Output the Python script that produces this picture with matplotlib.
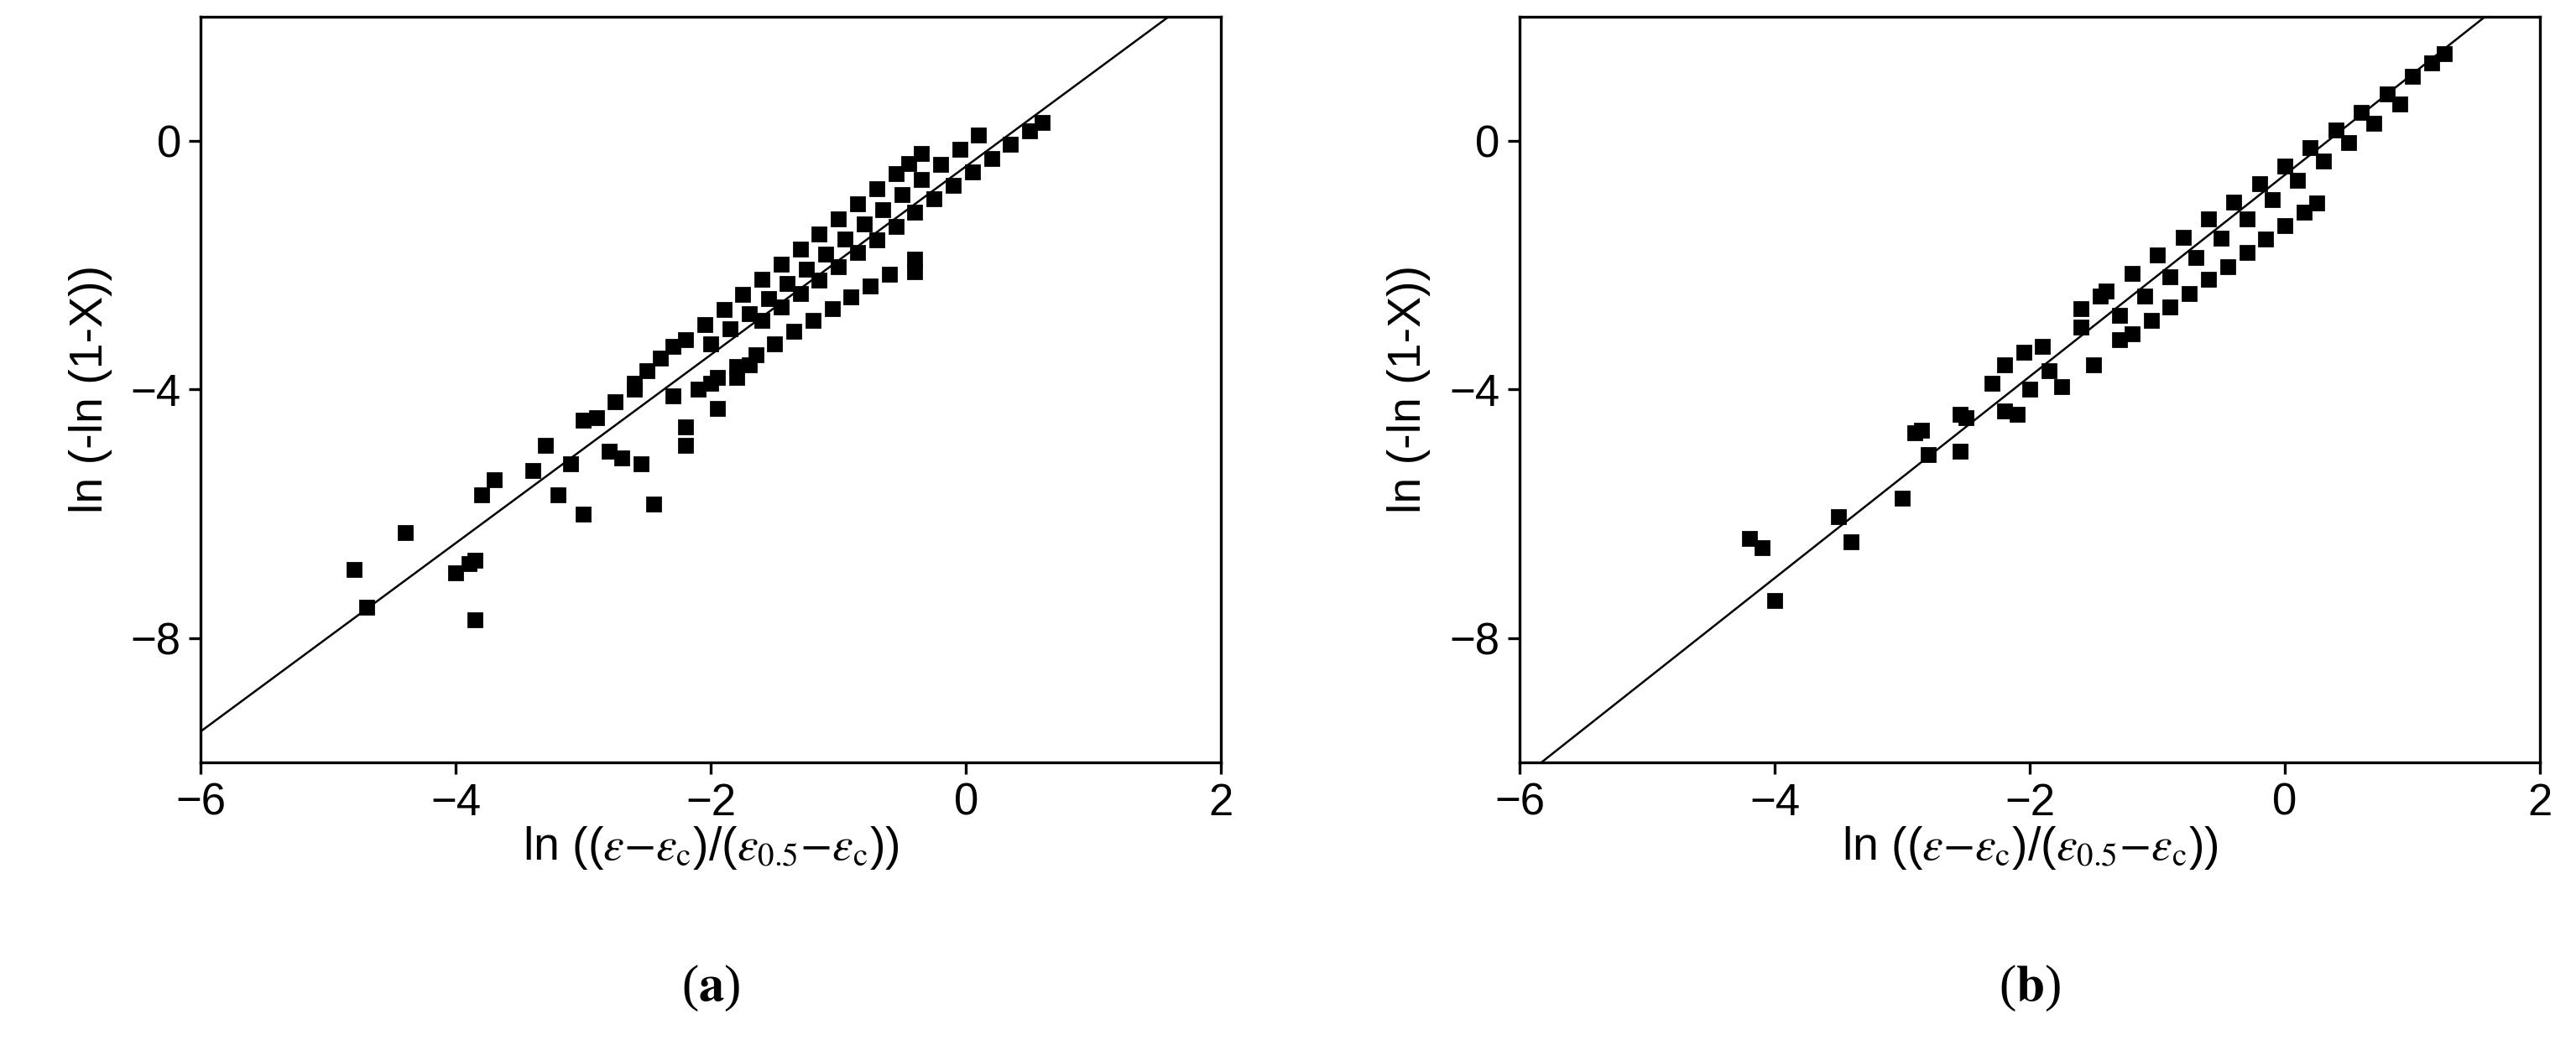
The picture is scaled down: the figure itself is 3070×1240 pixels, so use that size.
import matplotlib.pyplot as plt

# panel (a) data
a_band1_x = [-2.2, -2.05, -1.9, -1.75, -1.6, -1.45, -1.3, -1.15, -1.0, -0.85, -0.7, -0.55, -0.45, -0.35]
a_band1_y = [-3.20, -2.95, -2.71, -2.47, -2.23, -1.98, -1.74, -1.50, -1.25, -1.01, -0.77, -0.52, -0.36, -0.2]
a_band2_x = [-2.0, -1.85, -1.7, -1.55, -1.4, -1.25, -1.1, -0.95, -0.8, -0.65, -0.5, -0.35, -0.2, -0.05, 0.1]
a_band2_y = [-3.26, -3.02, -2.78, -2.54, -2.30, -2.06, -1.82, -1.58, -1.34, -1.10, -0.86, -0.62, -0.38, -0.14, 0.1]
a_band3_x = [-1.6, -1.45, -1.3, -1.15, -1.0, -0.85, -0.7, -0.55, -0.4, -0.25, -0.1, 0.05, 0.2, 0.35, 0.5, 0.6]
a_band3_y = [-2.89, -2.67, -2.46, -2.24, -2.02, -1.80, -1.59, -1.37, -1.15, -0.93, -0.72, -0.50, -0.28, -0.06, 0.16, 0.3]
a_band4_x = [-2.1, -1.95, -1.8, -1.65, -1.5, -1.35, -1.2, -1.05, -0.9, -0.75, -0.6, -0.4, -0.4]
a_band4_y = [-4.0, -3.81, -3.63, -3.44, -3.26, -3.07, -2.89, -2.70, -2.51, -2.33, -2.14, -1.9, -2.1]
a_scatter_x = [-4.8, -4.7, -4.4, -4.0, -3.9, -3.85, -3.85, -3.8, -3.7, -3.4, -3.3, -3.2, -3.1, -3.0, -3.0,
               -2.9, -2.8, -2.75, -2.7, -2.6, -2.55, -2.45, -2.5, -2.3, -2.2, -2.2, -2.0, -1.95, -1.8, -1.7,
               -2.6, -2.4, -2.3]
a_scatter_y = [-6.9, -7.5, -6.3, -6.95, -6.8, -7.7, -6.75, -5.7, -5.45, -5.3, -4.9, -5.7, -5.2, -6.0, -4.5,
               -4.45, -5.0, -4.2, -5.1, -4.0, -5.2, -5.85, -3.7, -4.1, -4.6, -4.9, -3.9, -4.3, -3.8, -3.6,
               -3.9, -3.5, -3.3]
a_fit_x = [-6.0, 1.59]
a_fit_y = [-9.5, 2.0]

# panel (b) data
b_band1_x = [-1.6, -1.4, -1.2, -1.0, -0.8, -0.6, -0.4, -0.2, 0.0, 0.2, 0.4, 0.6, 0.8, 1.0, 1.15, 1.25]
b_band1_y = [-2.70, -2.42, -2.13, -1.84, -1.55, -1.26, -0.98, -0.69, -0.40, -0.11, 0.18, 0.46, 0.75, 1.04, 1.26, 1.4]
b_band2_x = [-1.3, -1.1, -0.9, -0.7, -0.5, -0.3, -0.1, 0.1, 0.3, 0.5, 0.7, 0.9]
b_band2_y = [-2.81, -2.50, -2.19, -1.88, -1.57, -1.26, -0.95, -0.64, -0.33, -0.02, 0.29, 0.6]
b_band3_x = [-1.2, -1.05, -0.9, -0.75, -0.6, -0.45, -0.3, -0.15, 0.0, 0.15, 0.25]
b_band3_y = [-3.10, -2.89, -2.67, -2.45, -2.23, -2.02, -1.80, -1.58, -1.36, -1.15, -1.0]
b_scatter_x = [-4.2, -4.1, -4.0, -3.5, -3.4, -3.0, -2.9, -2.85, -2.8, -2.55, -2.55, -2.5, -2.3, -2.2, -2.2,
               -2.1, -2.05, -2.0, -1.9, -1.85, -1.75, -1.6, -1.5, -1.45, -1.3]
b_scatter_y = [-6.4, -6.55, -7.4, -6.05, -6.45, -5.75, -4.7, -4.65, -5.05, -5.0, -4.4, -4.45, -3.9, -4.35, -3.6,
               -4.4, -3.4, -4.0, -3.3, -3.7, -3.95, -3.0, -3.6, -2.5, -3.2]
b_fit_x = [-5.83, 1.57]
b_fit_y = [-10.0, 2.0]

xticks = [-6, -4, -2, 0, 2]
yticks = [-8, -4, 0]
xlabel = r'ln (($\varepsilon$$-$$\varepsilon_{\rm c}$)/($\varepsilon_{0.5}$$-$$\varepsilon_{\rm c}$))'
ylabel = 'ln (-ln (1-X))'

plt.rcParams['font.family'] = ['Liberation Sans', 'DejaVu Sans']
plt.rcParams['mathtext.fontset'] = 'stix'

fig = plt.figure(figsize=(15.35, 6.2), dpi=200)
ax_a = fig.add_axes([0.078, 0.267, 0.396, 0.717])
ax_b = fig.add_axes([0.590, 0.267, 0.396, 0.717])

panels = [
    (ax_a, [(a_band1_x, a_band1_y), (a_band2_x, a_band2_y), (a_band3_x, a_band3_y),
            (a_band4_x, a_band4_y), (a_scatter_x, a_scatter_y)], a_fit_x, a_fit_y, r'($\mathbf{a}$)'),
    (ax_b, [(b_band1_x, b_band1_y), (b_band2_x, b_band2_y), (b_band3_x, b_band3_y),
            (b_scatter_x, b_scatter_y)], b_fit_x, b_fit_y, r'($\mathbf{b}$)'),
]

for ax, series, fx, fy, tag in panels:
    ax.plot(fx, fy, color='black', lw=0.9)
    for sx, sy in series:
        ax.plot(sx, sy, ls='none', marker='s', ms=5.5, color='black')
    ax.set_xlim(-6, 2)
    ax.set_ylim(-10, 2)
    ax.set_xticks(xticks)
    ax.set_yticks(yticks)
    ax.tick_params(labelsize=19, length=5, width=1.2)
    for s in ax.spines.values():
        s.set_linewidth(1.2)
    ax.set_xlabel(xlabel, fontsize=20, labelpad=0)
    ax.set_ylabel(ylabel, fontsize=20, labelpad=8)
    pos = ax.get_position()
    fig.text((pos.x0 + pos.x1) / 2, 0.05, tag, ha='center', va='center',
             fontsize=22, family='Liberation Serif')

fig.savefig('out.png')
